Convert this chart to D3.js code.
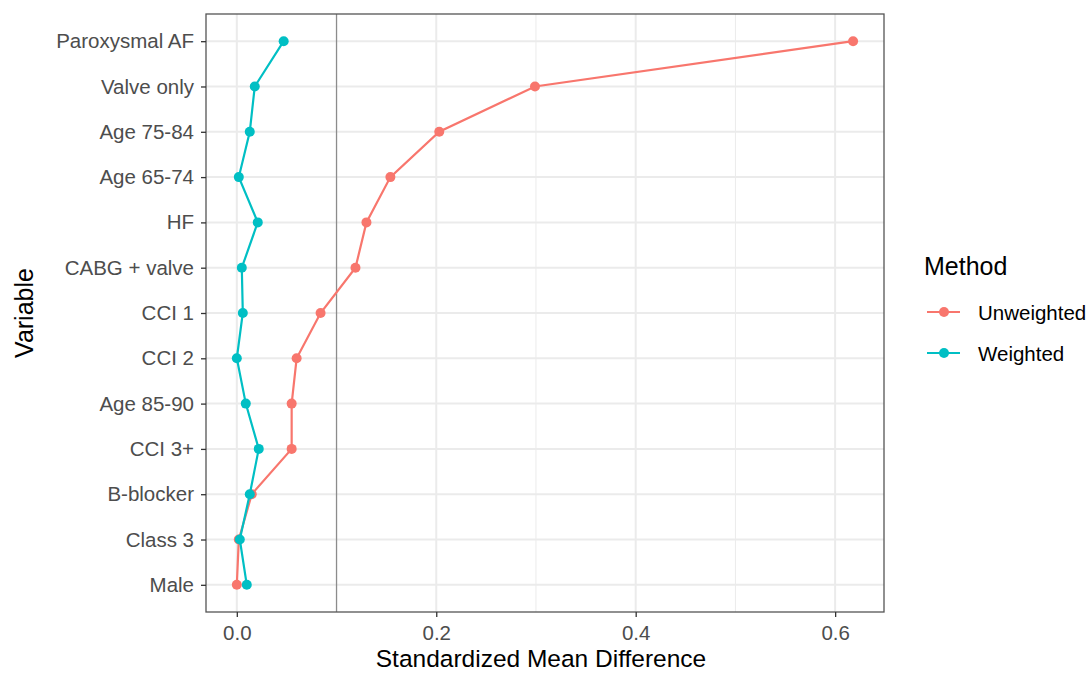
<!DOCTYPE html>
<html>
<head>
<meta charset="utf-8">
<script src="https://cdn.jsdelivr.net/npm/d3@7"></script>
<style>
  body { margin: 0; background: #fff; }
  text { font-family: "Liberation Sans", Arial, sans-serif; }
</style>
</head>
<body>
<svg id="chart" width="1092" height="673"></svg>
<script>
// categories, bottom to top
const variables = ["Male", "Class 3", "B-blocker", "CCI 3+", "Age 85-90", "CCI 2", "CCI 1",
  "CABG + valve", "HF", "Age 65-74", "Age 75-84", "Valve only", "Paroxysmal AF"]
const unweighted = [0.000, 0.002, 0.015, 0.055, 0.055, 0.060, 0.084, 0.119, 0.130, 0.154, 0.203, 0.299, 0.618]
const weighted = [0.010, 0.003, 0.013, 0.022, 0.009, 0.000, 0.006, 0.005, 0.021, 0.002, 0.013, 0.018, 0.047]
const methods = ["Unweighted", "Weighted"]
const colors = ["#F8766D", "#00BFC4"]
const xTicks = [0, 0.2, 0.4, 0.6]
const xMinor = [0.1, 0.3, 0.5]
const threshold = 0.1

const svg = d3.select("#chart")
const panel = {left: 206, top: 14, right: 884, bottom: 612}

const x = d3.scaleLinear()
    .domain([-0.0309, 0.649])
    .range([panel.left, panel.right])

const y = d3.scalePoint()
    .domain(variables)
    .range([panel.bottom, panel.top])
    .padding(0.6)

const g = svg.append("g")

// grid
g.selectAll(".minor").data(xMinor).enter().append("line")
    .attr("x1", d => x(d)).attr("x2", d => x(d))
    .attr("y1", panel.top).attr("y2", panel.bottom)
    .attr("stroke", "#EBEBEB").attr("stroke-width", 1)
g.selectAll(".major").data(xTicks).enter().append("line")
    .attr("x1", d => x(d)).attr("x2", d => x(d))
    .attr("y1", panel.top).attr("y2", panel.bottom)
    .attr("stroke", "#EBEBEB").attr("stroke-width", 2)
g.selectAll(".hgrid").data(variables).enter().append("line")
    .attr("x1", panel.left).attr("x2", panel.right)
    .attr("y1", d => y(d)).attr("y2", d => y(d))
    .attr("stroke", "#EBEBEB").attr("stroke-width", 2)

// reference line
g.append("line")
    .attr("x1", x(threshold)).attr("x2", x(threshold))
    .attr("y1", panel.top).attr("y2", panel.bottom)
    .attr("stroke", "#8c8c8c").attr("stroke-width", 1.3)

const series = [unweighted, weighted]
const line = d3.line()
    .x(d => x(d[1]))
    .y(d => y(d[0]))

series.forEach((vals, i) => {
    const pts = variables.map((v, j) => [v, vals[j]])
    g.append("path")
        .datum(pts)
        .attr("d", line)
        .attr("fill", "none")
        .attr("stroke", colors[i])
        .attr("stroke-width", 2.2)
    g.selectAll(".pt" + i).data(pts).enter().append("circle")
        .attr("cx", d => x(d[1]))
        .attr("cy", d => y(d[0]))
        .attr("r", 5)
        .attr("fill", colors[i])
})

// panel border
g.append("rect")
    .attr("x", panel.left).attr("y", panel.top)
    .attr("width", panel.right - panel.left).attr("height", panel.bottom - panel.top)
    .attr("fill", "none").attr("stroke", "#555").attr("stroke-width", 1.3)

// axes
const xAxis = svg.append("g")
    .attr("transform", `translate(0,${panel.bottom})`)
    .call(d3.axisBottom(x).tickValues(xTicks).tickFormat(d3.format(".1f")).tickSize(5).tickPadding(8))
xAxis.select(".domain").remove()
xAxis.selectAll("line").attr("stroke", "#333").attr("stroke-width", 1.3)
xAxis.selectAll("text").attr("fill", "#4D4D4D").style("font-size", "20.5px")

const yAxis = svg.append("g")
    .attr("transform", `translate(${panel.left},0)`)
    .call(d3.axisLeft(y).tickSize(5).tickPadding(7))
yAxis.select(".domain").remove()
yAxis.selectAll("line").attr("stroke", "#333").attr("stroke-width", 1.3)
yAxis.selectAll("text").attr("fill", "#4D4D4D").style("font-size", "20.5px")

// axis titles
svg.append("text")
    .attr("x", (panel.left + panel.right) / 2 - 4)
    .attr("y", 667)
    .attr("text-anchor", "middle")
    .style("font-size", "24.5px")
    .attr("fill", "#000")
    .text("Standardized Mean Difference")

svg.append("text")
    .attr("transform", `translate(33,${(panel.top + panel.bottom) / 2}) rotate(-90)`)
    .attr("text-anchor", "middle")
    .style("font-size", "25px")
    .attr("fill", "#000")
    .text("Variable")

// legend
const legend = svg.append("g").attr("transform", "translate(924,0)")
legend.append("text")
    .attr("x", 0).attr("y", 275)
    .style("font-size", "25px")
    .text("Method")
methods.forEach((m, i) => {
    const ly = 312 + i * 41
    legend.append("line")
        .attr("x1", 3).attr("x2", 36)
        .attr("y1", ly).attr("y2", ly)
        .attr("stroke", colors[i]).attr("stroke-width", 2.2)
    legend.append("circle")
        .attr("cx", 20).attr("cy", ly).attr("r", 5)
        .attr("fill", colors[i])
    legend.append("text")
        .attr("x", 54).attr("y", ly + 8)
        .style("font-size", "20.5px")
        .attr("fill", "#000")
        .text(m)
})
</script>
</body>
</html>
